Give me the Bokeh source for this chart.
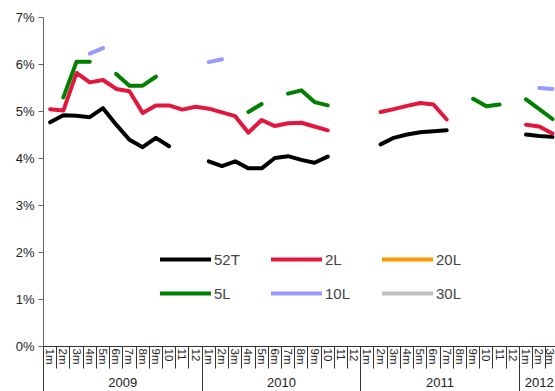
from bokeh.plotting import figure
from bokeh.models import (Range1d, LinearAxis, FixedTicker, Legend, LegendItem,
                          ColumnDataSource, PrintfTickFormatter)
from bokeh.embed import file_html
from bokeh.resources import INLINE
import numpy as np

# ---- data ----
years = ["2009", "2010", "2011", "2012"]
months_per_year = [12, 12, 12, 3]
month_labels = ["1m", "2m", "3m", "4m", "5m", "6m", "7m", "8m", "9m", "10", "11", "12"]

N = None
s52T = [4.77, 4.92, 4.91, 4.88, 5.07, 4.72, 4.40, 4.24, 4.44, 4.26, N, N,
        3.94, 3.84, 3.94, 3.79, 3.79, 4.01, 4.05, 3.97, 3.91, 4.04, N, N,
        N, 4.30, 4.44, 4.51, 4.56, 4.58, 4.60, N, N, N, N, N,
        4.51, 4.48, 4.46]
s2L = [5.05, 5.02, 5.82, 5.62, 5.67, 5.48, 5.43, 4.97, 5.13, 5.13, 5.04, 5.10,
       5.06, 4.98, 4.90, 4.55, 4.82, 4.69, 4.75, 4.76, 4.68, 4.60, N, N,
       N, 4.99, 5.05, 5.12, 5.18, 5.15, 4.83, N, N, N, N, N,
       4.72, 4.68, 4.53]
s20L = [N] * 39
s5L = [N, 5.30, 6.06, 6.06, N, 5.80, 5.55, 5.55, 5.74, N, N, N,
       N, N, N, 4.99, 5.16, N, 5.38, 5.45, 5.20, 5.13, N, N,
       N, N, N, N, N, N, N, N, 5.27, 5.11, 5.15, N,
       5.26, 5.05, 4.84]
s10L = [N, N, N, 6.23, 6.35, N, N, N, N, N, N, N,
        6.05, 6.11, N, N, N, N, N, N, N, N, N, N,
        N, N, N, N, N, N, N, N, N, N, N, N,
        N, 5.50, 5.48]
s30L = [N] * 39

series_names = ["52T", "2L", "20L", "5L", "10L", "30L"]
series_values = [s52T, s2L, s20L, s5L, s10L, s30L]
series_colors = ["#000000", "#E3173E", "#FF9900", "#008000", "#9999FF", "#C0C0C0"]

# ---- derived positions ----
periods = [(y, m) for y, n in zip(years, months_per_year) for m in month_labels[:n]]
n_periods = len(periods)
xc = np.arange(n_periods) + 0.5
bounds = np.cumsum([0] + months_per_year)
year_centers = [(bounds[i] + bounds[i + 1]) / 2 for i in range(len(years))]

FONT = "Liberation Sans"

p = figure(width=555, height=391, output_backend="svg", toolbar_location=None,
           x_axis_type=None, x_range=Range1d(0, 38.73), y_range=Range1d(0, 7),
           min_border_left=43, min_border_right=0, min_border_top=17, min_border_bottom=45)
p.outline_line_color = None
p.ygrid.grid_line_color = None
p.background_fill_color = "white"
p.border_fill_color = "white"

renderers = []
for name, vals, col in zip(series_names, series_values, series_colors):
    y = np.array([np.nan if v is None else v for v in vals], dtype=float)
    src = ColumnDataSource(dict(x=xc, y=y))
    r = p.line("x", "y", source=src, line_color=col, line_width=4,
               line_cap="round", line_join="round")
    renderers.append((name, r))

# y axis
ya = p.yaxis[0]
ya.ticker = FixedTicker(ticks=list(range(0, 8)))
ya.formatter = PrintfTickFormatter(format="%d%%")
ya.major_tick_out = 5
ya.major_tick_in = 0
ya.minor_tick_line_color = None
ya.axis_line_color = "#666666"
ya.major_tick_line_color = "#666666"
ya.major_label_text_font = FONT
ya.major_label_text_font_size = "13px"
ya.major_label_text_color = "#222222"
ya.major_label_standoff = 4

# month axis
ax_m = LinearAxis(ticker=FixedTicker(ticks=list(xc), minor_ticks=list(range(0, n_periods + 1))))
ax_m.major_label_overrides = {float(c): m for c, (yy, m) in zip(xc, periods)}
ax_m.major_label_orientation = "vertical"
ax_m.major_tick_line_color = None
ax_m.major_tick_out = 0
ax_m.minor_tick_out = 22
ax_m.minor_tick_in = 0
ax_m.minor_tick_line_color = "#333333"
ax_m.axis_line_color = "#333333"
ax_m.major_label_text_font = FONT
ax_m.major_label_text_font_size = "11.5px"
ax_m.major_label_text_color = "#222222"
ax_m.major_label_standoff = -20
p.add_layout(ax_m, "below")

# year axis
ax_y = LinearAxis(ticker=FixedTicker(ticks=year_centers, minor_ticks=[float(b) for b in bounds]))
ax_y.major_label_overrides = {float(c): y for c, y in zip(year_centers, years)}
ax_y.major_tick_line_color = None
ax_y.major_tick_out = 0
ax_y.minor_tick_out = 30
ax_y.minor_tick_in = 0
ax_y.minor_tick_line_color = "#333333"
ax_y.axis_line_color = None
ax_y.major_label_text_font = FONT
ax_y.major_label_text_font_size = "13px"
ax_y.major_label_text_color = "#222222"
ax_y.major_label_standoff = -20
p.add_layout(ax_y, "below")

legend = Legend(items=[LegendItem(label=n, renderers=[r]) for n, r in renderers],
                location=(117, 41), orientation="horizontal", ncols=3,
                glyph_width=51, glyph_height=24, label_height=24, label_width=47,
                label_standoff=3, spacing=10, padding=0, margin=0,
                background_fill_alpha=0, border_line_color=None,
                label_text_font=FONT, label_text_font_size="15px")
p.add_layout(legend)

open("out.html", "w").write(file_html(p, INLINE))
